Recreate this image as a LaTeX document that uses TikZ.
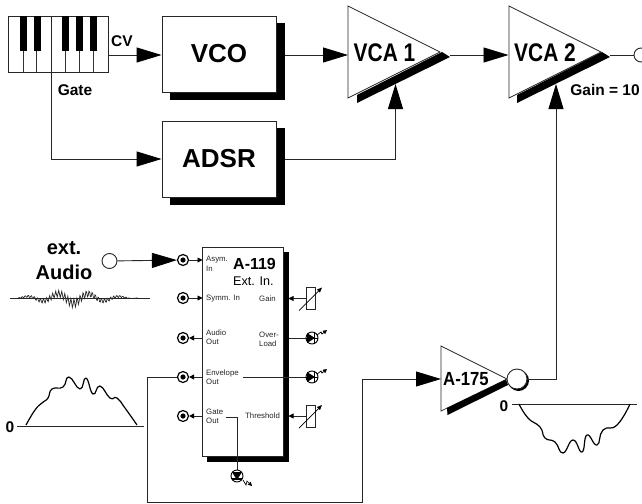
\documentclass[tikz,border=0pt]{standalone}
\usepackage{fontspec}
\setmainfont{Liberation Sans}
\usetikzlibrary{arrows.meta}
\newcommand{\fsz}[1]{\fontsize{#1}{#1}\selectfont}
\tikzset{
  wire/.style={line width=0.9pt,draw=black!85},
  bigarrow/.style={wire,-{Triangle[length=25pt,width=15pt,color=black,fill=black]}},
  tinyarrow/.style={wire,-{Triangle[length=5pt,width=5pt,color=black,fill=black]}},
  box/.style={draw=black!85,fill=white,line width=0.9pt,rectangle,inner sep=0pt,minimum width=114pt,minimum height=76pt,font=\bfseries\fsz{26}},
  shadowfill/.style={fill=black,draw=none},
  tri/.style={draw=black!85,line width=0.7pt,fill=white},
  jack/.style={circle,draw=black,line width=1.2pt,fill=white,minimum size=11pt,inner sep=0pt},
  led/.style={circle,draw=black,line width=0.9pt,fill=white,minimum size=12pt,inner sep=0pt},
  opening/.style={circle,draw=black!85,line width=0.9pt,fill=white,inner sep=0pt},
  lbl/.style={inner sep=0pt,font=\bfseries\fsz{15.5}},
  tiny/.style={inner sep=0pt,font=\fsz{7.8},text=black!85,align=left,anchor=west},
  thinwave/.style={line width=0.7pt,draw=black!85},
  env/.style={line width=1.2pt,draw=black,line join=round,smooth,tension=0.85},
  zigzag/.style={line width=0.7pt,-{Triangle[length=4pt,width=4pt,color=black,fill=black]}},
}
\begin{document}
\begin{tikzpicture}[x=1pt,y=-1pt]
\useasboundingbox (0,0) rectangle (642,503);
% keyboard
\draw[wire,fill=white] (8,16) rectangle (108,72);
\foreach \k in {23,36.5,65,79,93} \draw[line width=0.6pt,draw=black!80] (\k,16) -- (\k,72);
\draw[line width=0.8pt,draw=black!85] (51,16) -- (51,72);
\foreach \a/\b in {20/27,34/40.5,62/69,76/83,90/97} \fill (\a,16) rectangle (\b,51);
\coordinate (kbcv) at (108,55);
\coordinate (kbgate) at (51,72);
% boxes
\fill[shadowfill] (170,23) rectangle (284.5,100);
\node[box] (vco) at (219,54) {VCO};
\fill[shadowfill] (170,128) rectangle (284.5,205);
\node[box] (adsr) at (219,159) {ADSR};
% VCA 1
\coordinate (v1in) at (348,55);
\coordinate (v1ctl) at (395.5,84);
\draw[tri] (348,6) -- (440,52) -- (348,98) -- cycle;
\fill (357,95) -- (357,103) -- (450,57) -- (442,52) -- cycle;
\node[inner sep=0pt,font=\bfseries\fsz{25.5},xscale=.82] (v1) at (384.5,52.5) {VCA 1};
\coordinate (v1out) at (450,55);
% VCA 2
\coordinate (v2in) at (508.5,55);
\coordinate (v2ctl) at (556,84);
\draw[tri] (509,6) -- (601,52) -- (509,98) -- cycle;
\fill (517,95) -- (517,103) -- (610,57) -- (602,52) -- cycle;
\node[inner sep=0pt,font=\bfseries\fsz{25.5},xscale=.82] (v2) at (545,52.5) {VCA 2};
\coordinate (v2out) at (610,55);
\node[opening,minimum size=14pt] (outj) at (641,55) {};
\node[lbl] (gain10) at (605,90) {Gain = 10};
% connectors top
\draw[bigarrow] (kbcv) -- (vco.west |- kbcv);
\node[lbl] (cv) at (122,41) {CV};
\draw[bigarrow] (kbgate) |- (adsr.west);
\node[lbl] (gate) at (75,90) {Gate};
\draw[bigarrow] (284.5,55) -- (v1in);
\draw[bigarrow] (284.5,159) -| (v1ctl);
\draw[bigarrow] (v1out) -- (v2in);
\draw[wire] (v2out) -- (outj);
% A-119 module
\fill[shadowfill] (207,252) rectangle (288.5,461.5);
\draw[wire,fill=white] (202,247) rectangle (283,456);
\node[inner sep=0pt,anchor=west,font=\bfseries\fsz{16}] (a119) at (233,264) {A-119};
\node[inner sep=0pt,anchor=west,font=\fsz{12.6}] (extin) at (233,281) {Ext. In.};
\node[tiny] (t1) at (206,260) {Asym.};
\node[tiny] (t1b) at (206,269) {In};
\node[tiny] (t2) at (206,298.5) {Symm. In};
\node[tiny] (t3) at (206,333) {Audio};
\node[tiny] (t3b) at (206,342) {Out};
\node[tiny] (t4) at (206,373) {Envelope};
\node[tiny] (t4b) at (206,382) {Out};
\node[tiny] (t5) at (206,412) {Gate};
\node[tiny] (t5b) at (206,421) {Out};
\node[tiny] (t6) at (259,298.5) {Gain};
\node[tiny] (t7) at (259,335) {Over-};
\node[tiny] (t7b) at (259,344) {Load};
\node[tiny] (t8) at (245,416) {Threshold};
% jacks
\foreach \n/\y in {j1/260,j2/298,j3/338,j4/377,j5/416}{
  \node[jack] (\n) at (183,\y) {};
  \fill (183,\y) circle (2.6pt);
}
\draw[tinyarrow] (j1) -- (202.5,260);
\draw[tinyarrow] (j2) -- (202.5,298);
\draw[tinyarrow] (202,338) -- (j3);
\draw[tinyarrow] (202,377) -- (j4);
\draw[tinyarrow] (202,416) -- (j5);
% ext audio
\node[inner sep=0pt,font=\bfseries\fsz{20}] (ext) at (64,248) {ext.};
\node[inner sep=0pt,font=\bfseries\fsz{20}] (audio) at (64,272) {Audio};
\node[opening,minimum size=15pt] (inj) at (109.5,261) {};
\draw[bigarrow] (inj) -- (j1);
\draw[thinwave] (10,298) -- (150,298);
\draw[thinwave] plot[domain=18:138,samples=160] (\x,{298
  -(5.5*sin(11.6*(\x-50))*(1-abs(\x-73)/65))-(4.5*(1-abs(\x-73)/60))*sin(118*\x)});
% envelope
\draw[thinwave] (17,426) -- (144,426);
\node[lbl] (zero1) at (10,427) {0};
\draw[env] plot coordinates {(26,425) (35,410) (42,403) (48,398) (52,389) (63,387) (69,377) (80,389) (86,378) (93,394) (100,386) (110,398) (117,398) (125,408) (137,425)};
% LEDs
\draw[wire] (288.5,338) -- (306,338);
\draw[wire] (243,377.5) -- (306,377.5);
\draw[wire] (226,417) -- (237,417) -- (237,470);
\node[led] (led1) at (312,338) {};
\node[led] (led2) at (312,377) {};
\node[led] (led3) at (237,476) {};
\foreach \cy in {338,377}{
  \fill (307,\cy-5) -- (315,\cy) -- (307,\cy+5) -- cycle;
  \draw[line width=1.2pt] (314.5,\cy-5) -- (314.5,\cy+5);
  \draw[line width=0.8pt] (306,\cy) -- (318,\cy);
  \draw[zigzag] (317,\cy-3) -- (321,\cy-6) -- (322,\cy-4) -- (327,\cy-8);
}
\fill (232,472) -- (242,472) -- (237,480) -- cycle;
\draw[line width=1.2pt] (232,479) -- (242,479);
\draw[zigzag] (243,480) -- (246,485) -- (247,481) -- (252,486);
% pots
\foreach \n/\y in {pota/298.5,potb/416}{
  \node[draw=black!85,line width=0.8pt,fill=white,minimum width=9pt,minimum height=22pt,inner sep=0pt] (\n) at (310.5,\y) {};
  \draw[line width=0.7pt,-{Triangle[length=5pt,width=4pt,color=black,fill=black]}] (299,\y+12) -- (322,\y-11);
  \draw[tinyarrow] (\n) -- (288.5,\y);
}
% A-175
\coordinate (a175in) at (441,379);
\draw[tri] (441,346) -- (507,379) -- (441,411) -- cycle;
\fill (447,408) -- (447.5,415) -- (508,385) -- (506,379.5) -- cycle;
\node[inner sep=0pt,font=\bfseries\fsz{19},xscale=.88] (a175) at (466,379) {A-175};
\fill (518.5,380.5) circle (10.5pt);
\node[opening,minimum size=20pt] (a175o) at (517,379) {};
\draw[bigarrow] (a175o.east) -| (v2ctl);
\coordinate (r1) at (147,502);
\coordinate (r2) at (362,502);
\draw[bigarrow] (j4) -- (147,377) -- (r1) -- (r2) |- (a175in);
% inverted envelope
\draw[thinwave] (512,404) -- (637,404);
\node[lbl] (zero2) at (504,406) {0};
\draw[env] plot coordinates {(519,404) (528,418) (540,427) (545,438) (555,442) (563,453) (573,440) (582,452) (587,435) (597,445) (603,430) (617,425) (630,404)};
\end{tikzpicture}
\end{document}
